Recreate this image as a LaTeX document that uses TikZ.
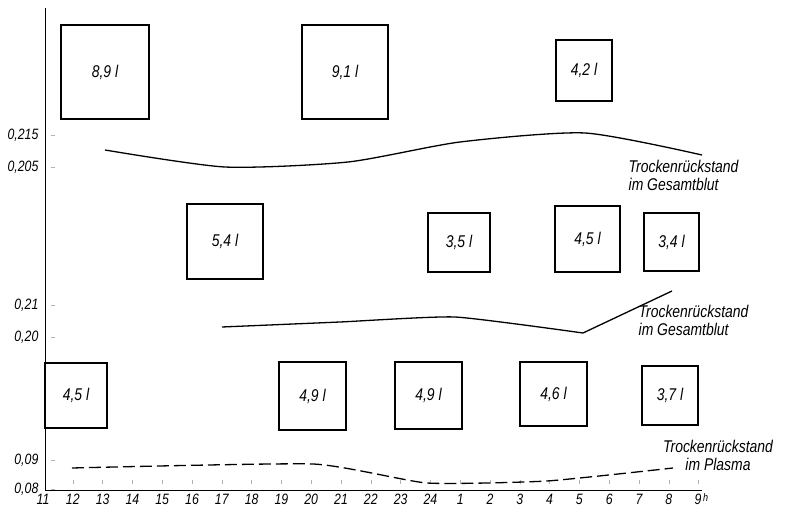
\documentclass[tikz,border=0pt]{standalone}
\usepackage{fontspec}
\setmainfont{Liberation Sans}[FakeStretch=0.82]
\usetikzlibrary{positioning}
\tikzset{volbox/.style={draw,line width=1.4pt,inner sep=0pt,font=\itshape\fontsize{17}{18}\selectfont} }
\tikzset{curvelabel/.style={inner sep=0pt,font=\itshape\fontsize{17}{17.5}\selectfont} }
\tikzset{axislabel/.style={inner sep=0pt,font=\itshape\fontsize{15}{15}\selectfont} }

\begin{document}
\begin{tikzpicture}[x=1pt,y=-1pt,line width=1.3pt]
    \useasboundingbox (0,0) rectangle (787,510);
    % axes and ticks
    \draw[line width=1pt] (45,8) -- (45,490) -- (702,490);
    \foreach \h [count=\i from 0] in {11,12,13,14,15,16,17,18,19,20,21,22,23,24,1,2,3,4,5,6,7,8}
        \node[axislabel] (h\i) at ({43+\i*29.8},499) {\h};
    \node[axislabel] (h22) at (698,499) {9};
    \node[axislabel,font=\itshape\fontsize{11}{11}\selectfont,right=0.5pt of h22.north east,anchor=north west] (hunit) {h};
    \foreach \i in {1,...,22}
        \draw[gray!60,line width=0.5pt] ({43+\i*29.8},480) -- ({43+\i*29.8},484);
    \foreach \v/\y [count=\k] in {{0,215}/135,{0,205}/167,{0,21}/305,{0,20}/337,{0,09}/460,{0,08}/489}{
        \node[axislabel,anchor=east] (v\k) at (39,\y) {\v};
        \draw[gray!60,line width=0.5pt] (51,\y) -- (55,\y);
    }
    % top row
    \node[volbox,minimum width=88pt,minimum height=94pt] (a1) at (105,72) {8,9 l};
    \node[volbox,minimum width=86pt,minimum height=94pt] (a2) at (345,72) {9,1 l};
    \node[volbox,minimum width=56pt,minimum height=61pt] (a3) at (584,70.5) {4,2 l};
    \draw plot[smooth,tension=0.4] coordinates {(105,150) (225,167) (348,162) (460,142) (585,133) (702,155)};
    \node[curvelabel,align=left,anchor=north west] (ga) at (628,160) {Trockenrückstand\\im Gesamtblut};
    % middle row
    \node[volbox,minimum width=76pt,minimum height=75pt] (b1) at (225,241.5) {5,4 l};
    \node[volbox,minimum width=62pt,minimum height=59pt] (b2) at (459,242.5) {3,5 l};
    \node[volbox,minimum width=65pt,minimum height=66pt] (b3) at (587.5,239) {4,5 l};
    \node[volbox,minimum width=55pt,minimum height=58pt] (b4) at (671.5,242) {3,4 l};
    \draw plot[smooth,tension=0.3] coordinates {(222,327) (340,322) (455,317) (583,333)} -- (672,291);
    \node[curvelabel,align=left,anchor=north west] (gb) at (638,305) {Trockenrückstand\\im Gesamtblut};
    % bottom row
    \node[volbox,minimum width=62pt,minimum height=65pt] (c1) at (76,395.5) {4,5 l};
    \node[volbox,minimum width=67pt,minimum height=68pt] (c2) at (312.5,396) {4,9 l};
    \node[volbox,minimum width=67pt,minimum height=67pt] (c3) at (428.5,395.5) {4,9 l};
    \node[volbox,minimum width=67pt,minimum height=64pt] (c4) at (553.5,394) {4,6 l};
    \node[volbox,minimum width=56pt,minimum height=59pt] (c5) at (670,395.5) {3,7 l};
    \draw[dash pattern=on 12pt off 5pt] plot[smooth,tension=0.3] coordinates {(72,468) (313,464) (427,483) (547,481) (673,468)};
    \node[curvelabel,align=center,anchor=north] (pl) at (718,440) {Trockenrückstand\\im Plasma};
\end{tikzpicture}
\end{document}
